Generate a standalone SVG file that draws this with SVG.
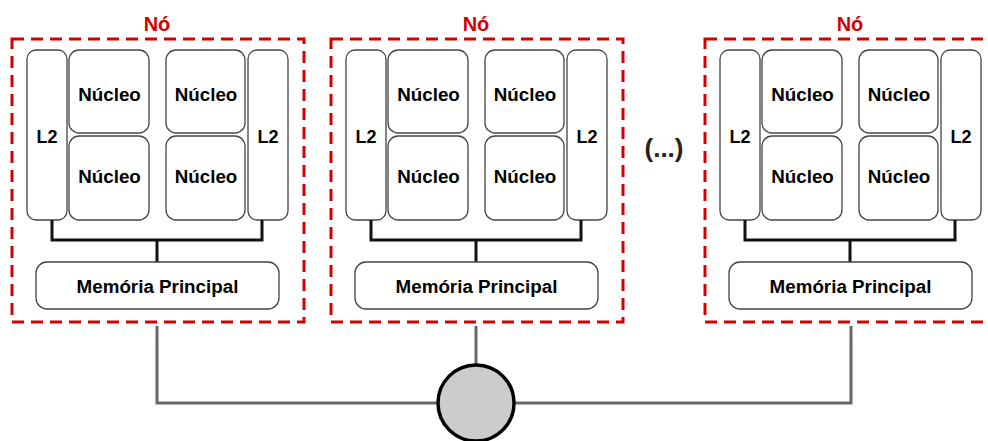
<svg xmlns="http://www.w3.org/2000/svg" width="988" height="441" viewBox="0 0 988 441">
<defs>
<style>
.frame{fill:none;stroke:#d40000;stroke-width:3;stroke-dasharray:12 7}
.box{fill:#fff;stroke:#444;stroke-width:1.3}
.t{font-family:"Liberation Sans",Arial,sans-serif;font-weight:bold;font-size:18.8px;fill:#000;text-anchor:middle}
.title{font-family:"Liberation Sans",Arial,sans-serif;font-weight:bold;font-size:20px;fill:#d40000;text-anchor:middle}
.bus{fill:none;stroke:#111;stroke-width:3}
.net{fill:none;stroke:#666;stroke-width:3}
</style>
<g id="nodeTpl">
<rect class="frame" x="12" y="39" width="292" height="283"/>
<text class="title" x="157" y="31">Nó</text>
<rect class="box" x="27" y="50" width="40" height="170" rx="9"/>
<text class="t" x="47" y="143" style="font-size:18px">L2</text>
<rect class="box" x="69" y="50" width="80" height="83" rx="10"/>
<text class="t" x="109.5" y="101">Núcleo</text>
<rect class="box" x="69" y="136" width="80" height="84" rx="10"/>
<text class="t" x="109.5" y="183">Núcleo</text>
<rect class="box" x="166" y="50" width="79" height="83" rx="10"/>
<text class="t" x="206" y="101">Núcleo</text>
<rect class="box" x="166" y="136" width="79" height="84" rx="10"/>
<text class="t" x="206" y="183">Núcleo</text>
<rect class="box" x="248" y="50" width="40" height="170" rx="9"/>
<text class="t" x="268" y="143" style="font-size:18px">L2</text>
<path class="bus" d="M52 220V240H262V220M157 240V262"/>
<rect class="box" x="36" y="262" width="243" height="47" rx="11"/>
<text class="t" x="157.5" y="293">Memória Principal</text>
</g>
</defs>
<g id="node1"><use href="#nodeTpl"/></g>
<g id="node2"><use href="#nodeTpl" x="319"/></g>
<g id="node3"><use href="#nodeTpl" x="693"/></g>
<text id="ellipsis" x="664" y="157" style="font-family:'Liberation Sans',Arial,sans-serif;font-weight:bold;font-size:26px;fill:#222;text-anchor:middle">(...)</text>
<g id="connectors">
<path class="net" d="M157 326V403H438"/>
<path class="net" d="M476 326V364"/>
<path class="net" d="M851 326V403H514"/>
</g>
<g id="switch"><circle cx="476" cy="403" r="38" fill="#cccccc" stroke="#000" stroke-width="3.5"/></g>
</svg>
